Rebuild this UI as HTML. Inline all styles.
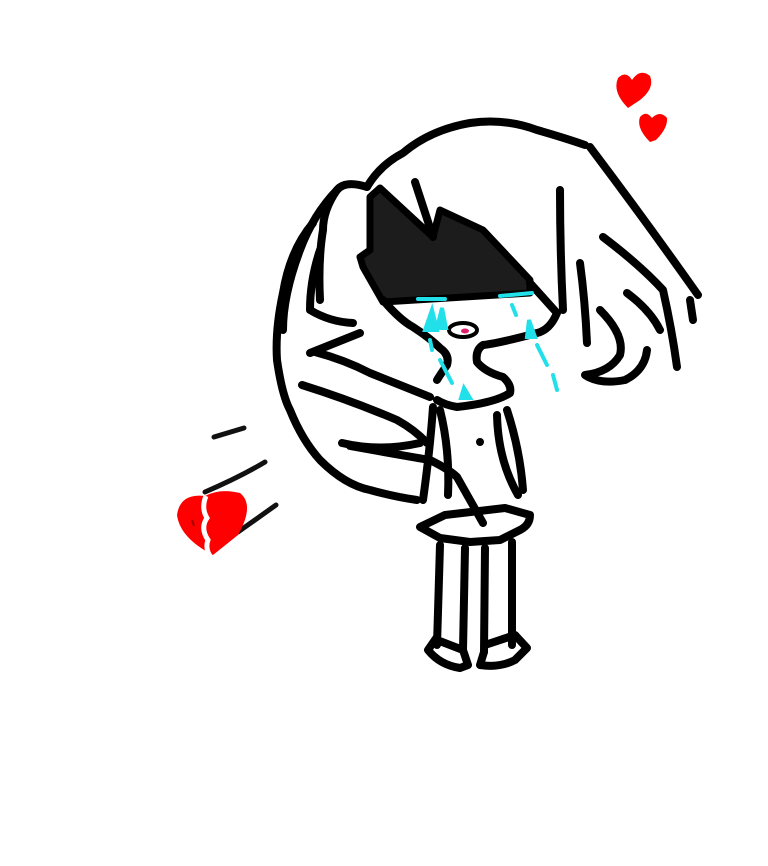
<!DOCTYPE html>
<html><head><style>html,body{margin:0;padding:0;background:#fff;width:768px;height:866px;overflow:hidden}</style></head>
<body>
<svg width="768" height="866" viewBox="0 0 768 866" xmlns="http://www.w3.org/2000/svg">
<rect width="768" height="866" fill="#fff"/>
<!-- black hair fill -->
<path d="M370,197 L380,188 L433,237 L440,210 L483,230 L530,280 L530,293 L497,295 L383,302 L363,267 L360,257 L370,250 Z" fill="#1c1c1c" stroke="#000" stroke-width="7" stroke-linejoin="round"/>
<g fill="none" stroke="#000" stroke-width="8" stroke-linecap="round" stroke-linejoin="round">
<!-- hair top -->
<path d="M367,187 Q380,165 403,153 Q430,130 470,123 Q505,118 537,130 Q565,138 585,145"/>
<path d="M590,147 Q645,220 698,295"/>
<path d="M690,300 L693,320"/>
<path d="M603,237 Q640,265 663,290 Q672,330 677,367"/>
<path d="M627,293 Q650,310 660,330"/>
<path d="M600,310 Q625,335 620,355 Q610,372 585,375 Q600,385 625,380 Q645,370 647,350"/>
<path d="M580,263 Q585,300 587,343"/>
<path d="M560,190 Q560,250 563,310"/>
<path d="M415,182 L433,237"/>
<!-- face -->
<path d="M530,283 L557,313 Q550,330 537,333 Q500,343 483,345 Q475,350 477,362 Q485,372 503,377 Q512,385 510,393 Q495,403 457,407 Q445,405 437,400"/>
<path d="M383,300 Q400,320 413,327 Q430,338 440,348 Q450,355 447,365 Q440,375 437,380"/>
<!-- left hair/wing -->
<path d="M367,187 Q345,180 337,190 Q323,210 323,230 Q318,260 320,300"/>
<path d="M337,190 Q313,215 300,250 Q283,295 283,330"/>
<path d="M313,223 Q290,250 283,293 Q275,330 277,360 Q282,395 290,410 Q302,440 320,460 Q345,485 370,490 Q395,497 417,500"/>
<path d="M320,250 Q310,280 310,310 Q330,322 353,323"/>
<path d="M310,353 Q335,343 360,333"/>
<path d="M315,352 Q345,360 370,373 Q400,385 430,397"/>
<path d="M302,385 Q350,400 397,420 Q415,430 427,443"/>
<path d="M342,443 Q380,452 420,443"/>
<path d="M350,446 Q400,455 430,460 Q450,470 457,477 Q470,500 483,523"/>
<!-- torso -->
<path d="M433,407 Q430,450 423,500"/>
<path d="M440,410 Q450,450 448,495"/>
<path d="M507,410 Q520,450 523,490"/>
<path d="M497,415 Q498,460 518,495"/>
<!-- skirt -->
<path d="M420,527 L445,515 L505,508 L530,515 Q530,525 520,530 L500,540 L470,542 L440,538 Z"/>
<!-- legs -->
<path d="M440,545 L437,645"/>
<path d="M465,548 L463,650"/>
<path d="M485,548 L484,652"/>
<path d="M512,542 L512,645"/>
<!-- feet -->
<path d="M437,637 L428,650 Q440,665 460,668 L468,665 L463,650 Q450,645 437,640"/>
<path d="M484,652 L480,665 Q500,668 515,660 L527,648 L515,635 Q500,640 485,645"/>
</g>
<circle cx="480" cy="442" r="4" fill="#000"/>
<!-- motion lines -->
<g stroke="#111" stroke-width="5" stroke-linecap="round" fill="none">
<path d="M214,437 L244,428"/>
<path d="M205,492 Q240,477 265,462"/>
<path d="M238,532 L276,505"/>
</g>
<!-- mouth -->
<ellipse cx="463" cy="330" rx="14" ry="7" fill="#fff" stroke="#000" stroke-width="4"/>
<ellipse cx="465" cy="331" rx="4" ry="2.5" fill="#e0206a"/>
<!-- tears -->
<g fill="#22e0ea" stroke="#22e0ea" stroke-width="4" stroke-linecap="round">
<path d="M418,299 L445,299" fill="none"/>
<path d="M500,296 L532,293" fill="none"/>
<path d="M425,330 L432,310 L437,330 Z"/>
<path d="M437,328 L442,308 L446,328 Z"/>
<path d="M527,337 L529,320 L535,337 Z"/>
<path d="M461,398 L464,388 L470,398 Z"/>
<path d="M512,305 L516,315 M537,345 L547,365 M553,375 L557,390 M430,340 L432,350 M440,360 L452,383" fill="none"/>
</g>
<!-- hearts -->
<g fill="#ff0000">
<path d="M628,108 Q612,92 618,78 Q626,70 632,80 Q640,68 650,76 Q655,88 640,100 Z"/>
<path d="M650,142 Q636,128 640,117 Q646,110 652,118 Q660,110 667,118 Q668,128 656,140 Z"/>
<path d="M213,555 Q180,538 177,515 Q180,493 205,496 Q220,488 240,493 Q255,505 238,535 Z"/>
</g>
<path d="M206,496 Q201,508 207,518 Q200,528 208,540 Q205,548 210,556" fill="none" stroke="#fff" stroke-width="5"/>
<path d="M192,520 L194,526" stroke="#a00" stroke-width="2"/>
</svg>
</body></html>
